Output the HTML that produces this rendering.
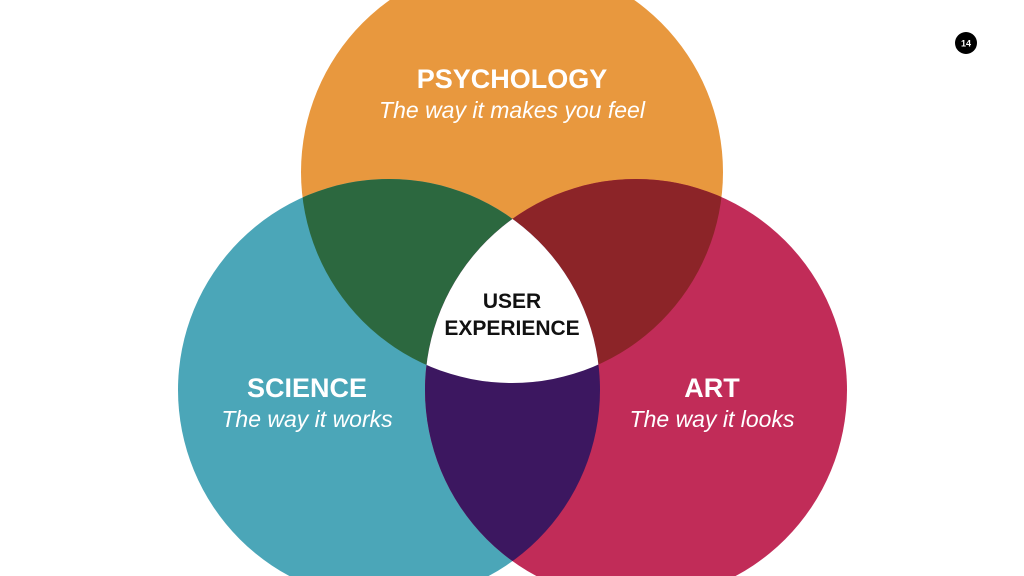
<!DOCTYPE html>
<html><head><meta charset="utf-8"><style>
html,body{margin:0;padding:0;background:#fff;}
svg{display:block;}
text{font-family:"Liberation Sans",Arial,sans-serif;}
</style></head><body>
<svg width="1024" height="576" viewBox="0 0 1024 576" xmlns="http://www.w3.org/2000/svg">
<defs>
<clipPath id="cT"><circle cx="512" cy="172" r="211"/></clipPath>
<clipPath id="cL"><circle cx="389" cy="390" r="211"/></clipPath>
<clipPath id="cR"><circle cx="636" cy="390" r="211"/></clipPath>
</defs>
<rect width="1024" height="576" fill="#fff"/>
<circle cx="512" cy="172" r="211" fill="#E8983E"/>
<circle cx="389" cy="390" r="211" fill="#4BA6B8"/>
<circle cx="636" cy="390" r="211" fill="#C12C58"/>
<g clip-path="url(#cT)"><circle cx="389" cy="390" r="211" fill="#2C683F"/><circle cx="636" cy="390" r="211" fill="#8C2428"/></g>
<g clip-path="url(#cL)"><circle cx="636" cy="390" r="211" fill="#3C1760"/></g>
<g clip-path="url(#cT)"><g clip-path="url(#cL)"><circle cx="636" cy="390" r="211" fill="#fff"/></g></g>
<text x="512" y="88" text-anchor="middle" fill="#fff" font-size="27" font-weight="bold">PSYCHOLOGY</text>
<text x="512" y="118" text-anchor="middle" fill="#fff" font-size="23" font-style="italic">The way it makes you feel</text>
<text x="307" y="397" text-anchor="middle" fill="#fff" font-size="27" font-weight="bold">SCIENCE</text>
<text x="307" y="427" text-anchor="middle" fill="#fff" font-size="23" font-style="italic">The way it works</text>
<text x="712" y="397" text-anchor="middle" fill="#fff" font-size="27" font-weight="bold">ART</text>
<text x="712" y="427" text-anchor="middle" fill="#fff" font-size="23" font-style="italic">The way it looks</text>
<text x="512" y="308" text-anchor="middle" fill="#111" font-size="21" font-weight="bold">USER</text>
<text x="512" y="335" text-anchor="middle" fill="#111" font-size="21" font-weight="bold">EXPERIENCE</text>
<circle cx="966" cy="43" r="11" fill="#000"/>
<text x="966" y="46.5" text-anchor="middle" fill="#fff" font-size="9" font-weight="bold">14</text>
</svg>
</body></html>
